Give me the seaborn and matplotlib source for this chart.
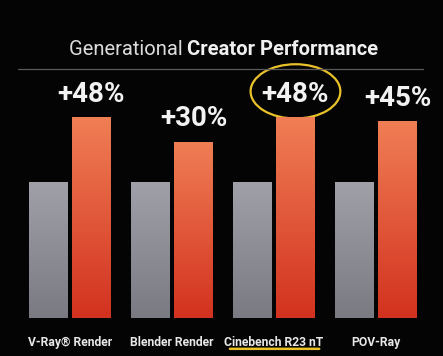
import numpy as np
import pandas as pd
import matplotlib.pyplot as plt
import seaborn as sns
from matplotlib.patches import Ellipse
from matplotlib.colors import LinearSegmentedColormap, to_hex

# ---------------------------------------------------
# Data (previous gen normalised to 100)
# ---------------------------------------------------
benchmarks = ["V-Ray® Render", "Blender Render", "Cinebench R23 nT", "POV-Ray"]
previous_gen = [100, 100, 100, 100]
new_gen = [148, 130, 148, 145]
uplift_labels = ["+48%", "+30%", "+48%", "+45%"]
highlight = "Cinebench R23 nT"

df = pd.DataFrame({
    "benchmark": benchmarks * 2,
    "generation": ["previous"] * len(benchmarks) + ["new"] * len(benchmarks),
    "score": previous_gen + new_gen,
})

GRAY = "#8f8f97"
ORANGE = "#e6583a"
YELLOW = "#e9c22a"
BG = "#050404"

sns.set_theme(style="dark")
plt.rcParams["font.family"] = ["Roboto", "DejaVu Sans"]

fig = plt.figure(figsize=(4.43, 3.56), dpi=100, facecolor=BG)
ax = fig.add_axes([0.043, 0.107, 0.921, 0.724])
ax.set_facecolor(BG)

sns.barplot(data=df, x="benchmark", y="score", hue="generation",
            palette={"previous": GRAY, "new": ORANGE},
            width=0.84, gap=0.1, saturation=1, linewidth=0,
            legend=False, ax=ax)

# vertical gradients clipped to each bar
gray_cmap = LinearSegmentedColormap.from_list("g", ["#7a7a82", "#a0a0a8"])
orange_cmap = LinearSegmentedColormap.from_list("o", ["#d2321f", "#f07e55"])
ramp = np.linspace(0, 1, 256).reshape(-1, 1)
for patch in list(ax.patches):
    x0, y0 = patch.get_x(), patch.get_y()
    w, h = patch.get_width(), patch.get_height()
    cmap = gray_cmap if to_hex(patch.get_facecolor()) == GRAY else orange_cmap
    im = ax.imshow(ramp, extent=[x0, x0 + w, y0, y0 + h], origin="lower",
                   cmap=cmap, aspect="auto", zorder=patch.get_zorder() + 0.1)
    im.set_clip_path(patch)
ax.set_xlim(-0.5, len(benchmarks) - 0.5)
ax.set_ylim(0, 190)

# uplift labels over the new-gen bars
offset = 0.84 / 4
for i, (val, lab) in enumerate(zip(new_gen, uplift_labels)):
    ax.text(i + offset, val + 7, lab, ha="center", va="bottom",
            color="#f2f2f2", fontsize=20, fontweight="bold")
    if benchmarks[i] == highlight:
        ax.add_patch(Ellipse((i + offset, val + 19), 0.88, 40, fill=False,
                             edgecolor=YELLOW, linewidth=1.6, clip_on=False))

for s in ax.spines.values():
    s.set_visible(False)
ax.set_xlabel("")
ax.set_ylabel("")
ax.set_yticks([])
ax.grid(False)
ax.tick_params(axis="x", length=0, pad=13, colors="#e8e8e8", labelsize=8.7)
for t in ax.get_xticklabels():
    t.set_fontweight("bold")

# underline highlighted benchmark
hi = benchmarks.index(highlight)
ax.annotate("", xy=(hi - 0.46, -0.12), xytext=(hi + 0.47, -0.12),
            xycoords=("data", "axes fraction"), textcoords=("data", "axes fraction"),
            arrowprops=dict(arrowstyle="-", color=YELLOW, lw=1.8), annotation_clip=False)

# title
t1 = fig.text(0.155, 0.845, "Generational ", color="#dcdcdc", fontsize=14.5,
              ha="left", va="baseline")
ax.annotate("Creator Performance", xy=(1, 0), xycoords=t1, color="#f0f0f0",
            fontsize=14.5, fontweight="bold", ha="left", va="bottom")
fig.add_artist(plt.Line2D([0.04, 0.955], [0.805, 0.805], color="#5a5a5a", lw=0.9))

fig.savefig("out.png", dpi=100, facecolor=BG)
